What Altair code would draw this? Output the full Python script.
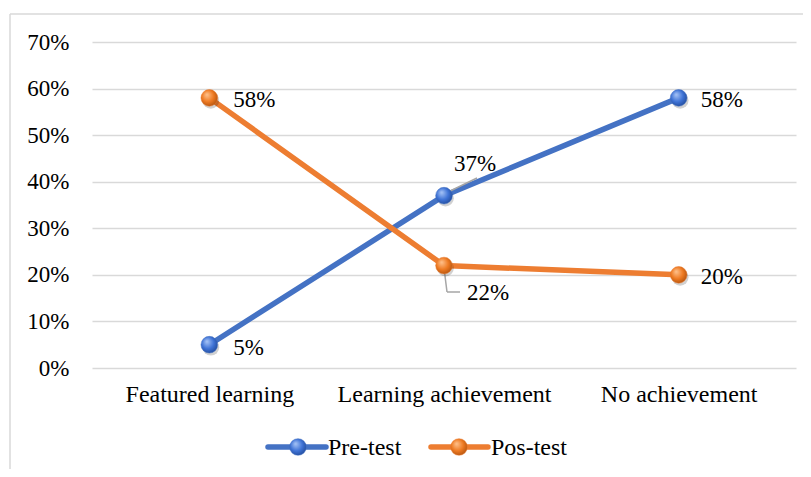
import altair as alt
import pandas as pd

categories = ["Featured learning", "Learning achievement", "No achievement"]
pre_test = [0.05, 0.37, 0.58]
pos_test = [0.58, 0.22, 0.20]
series_names = ["Pre-test", "Pos-test"]
y_ticks = [0, 0.1, 0.2, 0.3, 0.4, 0.5, 0.6, 0.7]

BLUE = "#4472C4"
ORANGE = "#ED7D31"
FONT = "Liberation Serif"
FS = 24      # words
FSN = 23     # numbers

rows = []
for c, v in zip(categories, pre_test):
    rows.append({"cat": c, "val": v, "series": "Pre-test"})
for c, v in zip(categories, pos_test):
    rows.append({"cat": c, "val": v, "series": "Pos-test"})
df = pd.DataFrame(rows)

W, H = 704, 326

xenc = alt.X("cat:N", sort=categories,
             scale=alt.Scale(type="point", domain=categories, padding=0.5),
             axis=alt.Axis(title=None, labelFont=FONT, labelFontSize=FS, labelColor="#000000",
                           labelPadding=14, ticks=False, domain=False, labelAngle=0,
                           labelLimit=400))
yenc = alt.Y("val:Q",
             scale=alt.Scale(domain=[0, 0.7], nice=False),
             axis=alt.Axis(title=None, values=y_ticks, format=".0%", labelFont=FONT,
                           labelFontSize=FSN, labelColor="#000000", labelPadding=23,
                           ticks=False, domain=False, grid=True, gridColor="#d9d9d9",
                           gridWidth=1.5))

base = alt.Chart(df).encode(x=xenc, y=yenc)


def grad(light, mid, dark):
    return {"gradient": "radial", "x1": 0.35, "y1": 0.3, "r1": 0.0,
            "x2": 0.45, "y2": 0.45, "r2": 0.65,
            "stops": [{"offset": 0, "color": light},
                      {"offset": 0.55, "color": mid},
                      {"offset": 1, "color": dark}]}


layers = []
colors = {"Pre-test": (BLUE, grad("#a9c6f7", "#3f73d6", "#1d4591")),
          "Pos-test": (ORANGE, grad("#ffc38f", "#ee7a22", "#a84d0c"))}

for s in series_names:
    col, g = colors[s]
    sub = base.transform_filter(alt.datum.series == s)
    layers.append(sub.mark_line(color=col, strokeWidth=5.5, strokeCap="round", strokeJoin="round"))

# leader lines
GRAY = "#a6a6a6"
leader = pd.DataFrame({"k": [0]})
layers.append(alt.Chart(leader).mark_rule(color=GRAY, strokeWidth=1.5).encode(
    x=alt.value(352), y=alt.value(152), x2=alt.value(385), y2=alt.value(136)))
layers.append(alt.Chart(leader).mark_rule(color=GRAY, strokeWidth=1.5).encode(
    x=alt.value(352), y=alt.value(226), x2=alt.value(355), y2=alt.value(250)))
layers.append(alt.Chart(leader).mark_rule(color=GRAY, strokeWidth=1.5).encode(
    x=alt.value(355), y=alt.value(250), x2=alt.value(368), y2=alt.value(250)))

for s in series_names:
    col, g = colors[s]
    sub = base.transform_filter(alt.datum.series == s)
    layers.append(sub.mark_point(filled=True, fill="#000000", size=280, opacity=0.18,
                                 xOffset=1.5, yOffset=2.5))
    layers.append(sub.mark_point(filled=True, fill=g, size=280, stroke=col, strokeWidth=0.8,
                                 strokeOpacity=0.6, opacity=1))

# data labels: (series, category index, dx, dy)
label_pos = [("Pre-test", 0, 24, 3), ("Pre-test", 1, 10, -32), ("Pre-test", 2, 22, 2),
             ("Pos-test", 0, 24, 2), ("Pos-test", 1, 23, 27), ("Pos-test", 2, 22, 2)]
for s, ci, dx, dy in label_pos:
    sub = base.transform_filter(
        (alt.datum.series == s) & (alt.datum.cat == categories[ci]))
    layers.append(sub.mark_text(align="left", baseline="middle", dx=dx, dy=dy, font=FONT,
                                fontSize=FSN, color="#000000").encode(
        text=alt.Text("val:Q", format=".0%")))

# legend
LY = 405
leg = pd.DataFrame({"series": series_names})
leg_items = [("Pre-test", 176, 234, 206, 236), ("Pos-test", 339, 396, 367, 399)]
for s, x1, x2, xc, xt in leg_items:
    col, g = colors[s]
    src = alt.Chart(leg).transform_filter(alt.datum.series == s)
    layers.append(src.mark_rule(color=col, strokeWidth=5.5, strokeCap="round").encode(
        x=alt.value(x1), x2=alt.value(x2), y=alt.value(LY)))
    layers.append(src.mark_point(filled=True, fill=g, size=280, stroke=col, strokeWidth=0.8,
                                 strokeOpacity=0.6, opacity=1).encode(
        x=alt.value(xc), y=alt.value(LY)))
    layers.append(src.mark_text(align="left", baseline="middle", font=FONT, fontSize=FS,
                                color="#000000").encode(
        x=alt.value(xt), y=alt.value(LY + 1), text="series:N"))

# outer chart border (top and left visible)
layers.append(alt.Chart(leader).mark_rule(color="#d9d9d9", strokeWidth=1.5).encode(
    x=alt.value(-82), x2=alt.value(720), y=alt.value(-28)))
layers.append(alt.Chart(leader).mark_rule(color="#d9d9d9", strokeWidth=1.5).encode(
    x=alt.value(-82), y=alt.value(-28), y2=alt.value(460)))

chart = alt.layer(*layers).properties(
    width=W, height=H,
    autosize=alt.AutoSizeParams(type="none"),
    padding={"left": 84, "top": 34, "right": 7, "bottom": 101},
    background="#ffffff",
).configure_view(stroke=None)

chart.save("out.html", embed_options={"renderer": "svg", "actions": False})
